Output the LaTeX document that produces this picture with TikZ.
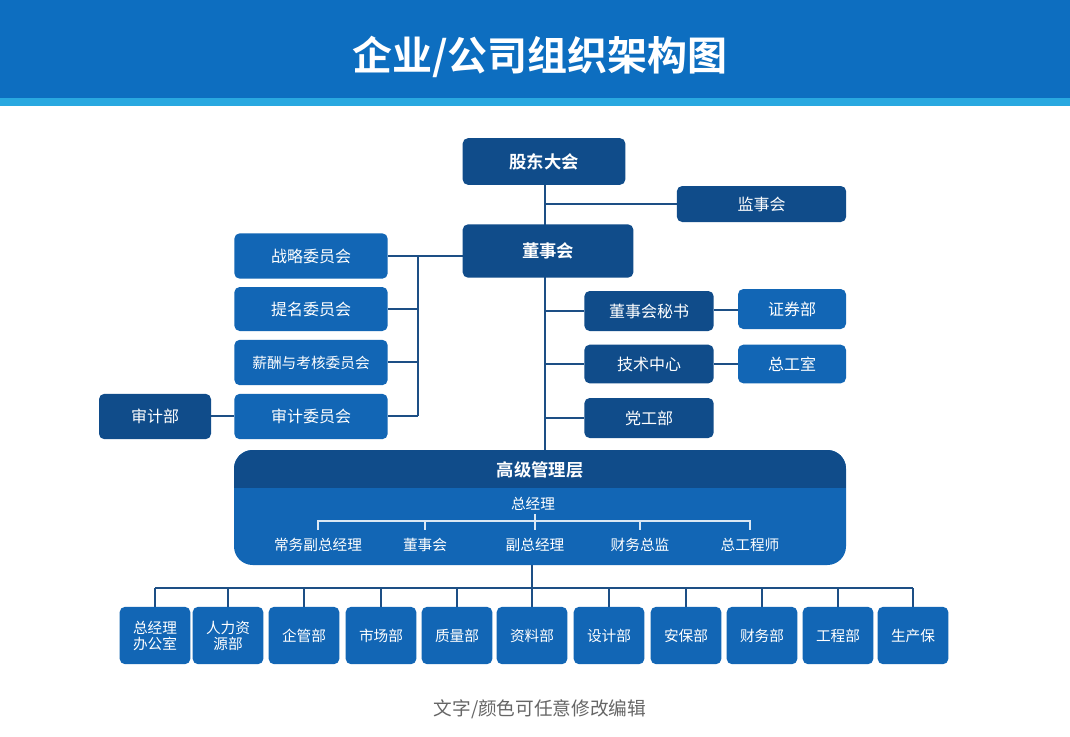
\documentclass[tikz,border=0pt]{standalone}
\usepackage{fontspec}
\setmainfont{Noto Sans CJK SC}
\newfontfamily\cjkb{Noto Sans CJK SC Bold}
\definecolor{dk}{HTML}{104C8A}
\definecolor{md}{HTML}{1266B5}
\definecolor{band}{HTML}{0D6EC0}
\definecolor{strip}{HTML}{29A8E0}
\definecolor{ln}{HTML}{1D4F85}
\begin{document}
\begin{tikzpicture}[x=0.75pt,y=-0.75pt,
 box/.style={draw=none,rounded corners=4pt,text=white,font=\fontsize{12}{14}\selectfont},
 dbox/.style={box,fill=dk},
 mbox/.style={box,fill=md},
 conn/.style={draw=ln,line width=1.4pt},
 wl/.style={draw=white!85!md,line width=1.4pt}]
\useasboundingbox (0,0) rectangle (1070,736);
\fill[white] (0,0) rectangle (1070,736);
\fill[band] (0,0) rectangle (1070,98);
\fill[strip] (0,98) rectangle (1070,106);
\node[text=white,font=\cjkb\fontsize{30}{34}\selectfont] (title) at (540,57) {企业/公司组织架构图};
% connectors behind
\coordinate (top) at (545,185);
\coordinate (bot) at (545,450);
\draw[conn] (top) -- (bot);
\draw[conn] (545,204) -- (677,204);
\draw[conn] (463,256) -- (418,256) -- (418,416);
\foreach \y in {256,309,362,416} \draw[conn] (388,\y) -- (418,\y);
\draw[conn] (211,416) -- (234,416);
\foreach \y in {311,364,418} \draw[conn] (545,\y) -- (584,\y);
\draw[conn] (714,310) -- (738,310);
\draw[conn] (714,364) -- (738,364);
\draw[conn] (532,565) -- (532,607);
\draw[conn] (155,588) -- (913,588);
\foreach \x in {155,228,304,381,457,609,686,762,838,913} \draw[conn] (\x,588) -- (\x,607);
% top boxes
\node[dbox,minimum width=122pt,minimum height=35pt,font=\cjkb\fontsize{13}{15}\selectfont] (gd) at (544,161.5) {股东大会};
\node[dbox,minimum width=127pt,minimum height=27pt] (js) at (761.5,204) {监事会};
\node[dbox,minimum width=128pt,minimum height=40pt,font=\cjkb\fontsize{13}{15}\selectfont] (ds) at (548,251) {董事会};
\node[mbox,minimum width=115pt,minimum height=34pt] (zl) at (311,256) {战略委员会};
\node[mbox,minimum width=115pt,minimum height=33pt] (tm) at (311,309) {提名委员会};
\node[mbox,minimum width=115pt,minimum height=34pt,font=\fontsize{11}{13}\selectfont] (xc) at (311,362.5) {薪酬与考核委员会};
\node[mbox,minimum width=115pt,minimum height=34pt] (sjw) at (311,416.5) {审计委员会};
\node[dbox,minimum width=84pt,minimum height=34pt] (sjb) at (155,416.5) {审计部};
\node[dbox,minimum width=97pt,minimum height=30pt] (ms) at (649,311) {董事会秘书};
\node[mbox,minimum width=81pt,minimum height=30pt] (zq) at (792,309) {证券部};
\node[dbox,minimum width=97pt,minimum height=29pt] (js2) at (649,364) {技术中心};
\node[mbox,minimum width=81pt,minimum height=29pt] (zg) at (792,364) {总工室};
\node[dbox,minimum width=97pt,minimum height=30pt] (dg) at (649,418) {党工部};
% senior management
\fill[md,rounded corners=14pt] (234,450) rectangle (846,565);
\begin{scope}
\clip[rounded corners=14pt] (234,450) rectangle (846,565);
\fill[dk] (234,450) rectangle (846,488);
\end{scope}
\node[text=white,font=\cjkb\fontsize{13}{15}\selectfont] (gj) at (540,470) {高级管理层};
\node[text=white,font=\fontsize{11}{13}\selectfont] (zjl) at (533,504) {总经理};
\draw[wl] (535,514) -- (535,521);
\draw[wl] (318,530) -- (318,521) -- (750,521) -- (750,530);
\foreach \x in {425,535,640} \draw[wl] (\x,521) -- (\x,530);
\foreach \x/\t in {318/常务副总经理,425/董事会,535/副总经理,640/财务总监,750/总工程师}
  \node[text=white,font=\fontsize{11}{13}\selectfont] at (\x,545) {\t};
% bottom boxes
\foreach \x/\t/\n in {155/{总经理\\办公室}/b1,228/{人力资\\源部}/b2,304/企管部/b3,381/市场部/b4,457/质量部/b5,532/资料部/b6,609/设计部/b7,686/安保部/b8,762/财务部/b9,838/工程部/b10,913/生产保/b11}
  \node[mbox,minimum width=53pt,minimum height=43pt,align=center,font=\fontsize{11}{12}\selectfont,inner sep=1pt] (\n) at (\x,635.5) {\t};
\node[text=black!60,font=\fontsize{14}{16}\selectfont] (foot) at (540,709) {文字/颜色可任意修改编辑};
\end{tikzpicture}
\end{document}
